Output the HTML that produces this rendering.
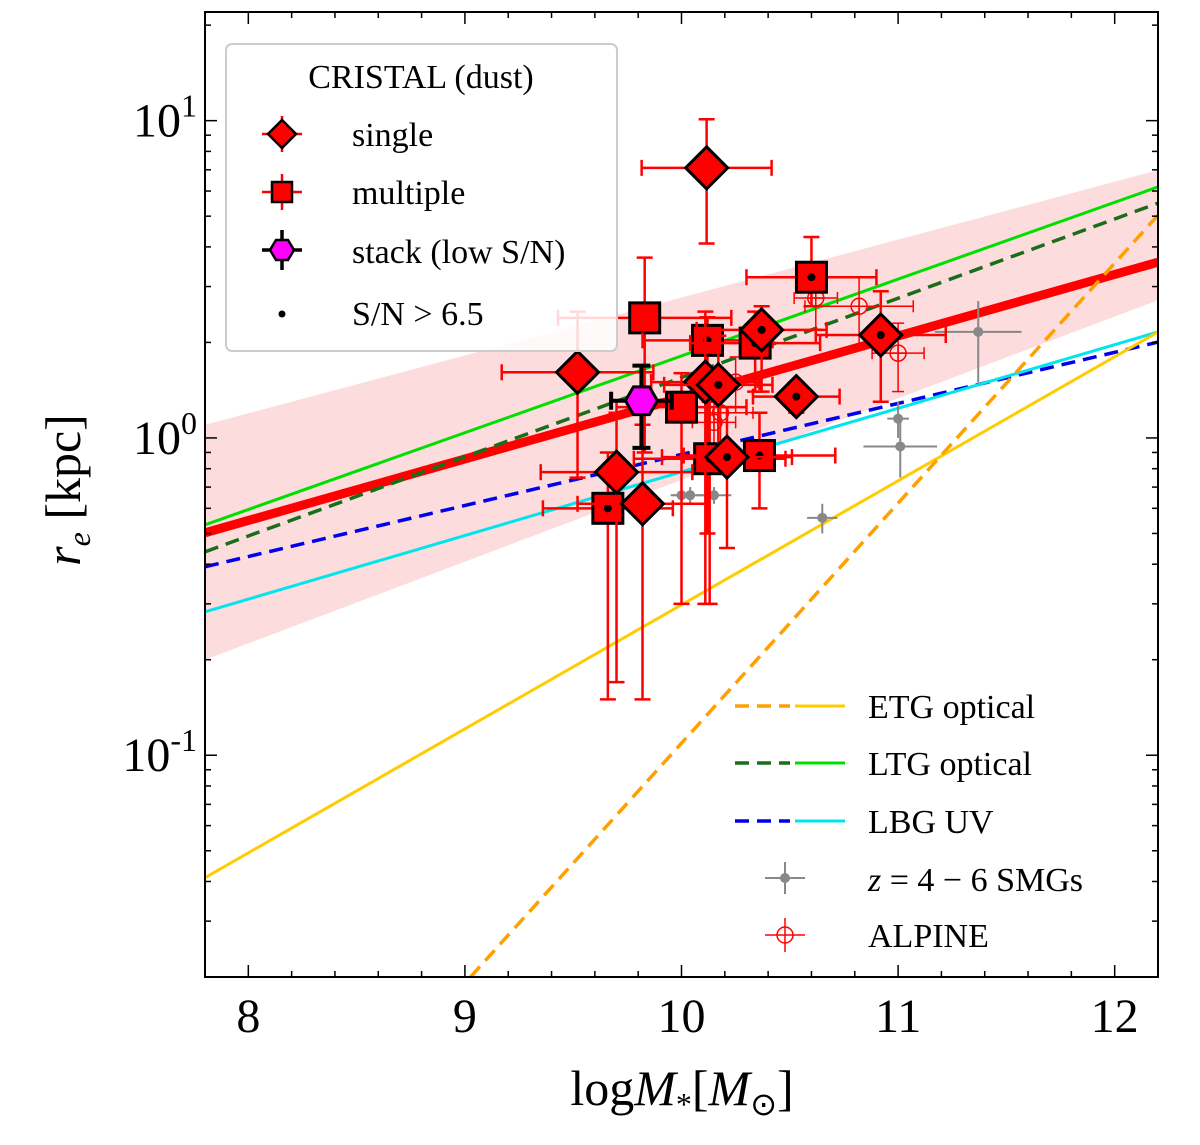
<!DOCTYPE html>
<html><head><meta charset="utf-8"><style>
html,body{margin:0;padding:0;width:1200px;height:1145px;overflow:hidden;background:#fff}
svg{position:absolute;left:0;top:0;font-family:"Liberation Serif",serif}
</style></head><body>
<svg id="c" width="1200" height="1145"></svg>
<script>
// data arrays
const singleX=[10.116,9.52,9.70,9.82,10.37,10.11,10.17,10.21,10.53,10.92];
const singleY=[7.1,1.61,0.78,0.62,2.19,1.50,1.47,0.87,1.35,2.11];
const singleDot=[0,0,0,0,1,1,1,1,1,1];
const singleXErr=[0.30,0.35,0.35,0.3,0.3,0.25,0.25,0.3,0.2,0.3];
const singleYLo=[4.1,0.75,0.17,0.15,1.4,0.3,0.9,0.45,1.2,1.3];
const singleYHi=[10.1,2.5,1.2,1.1,2.6,2.5,2.1,1.25,1.5,2.9];
const multiX=[9.83,10.12,10.34,10.60,10.0,10.13,10.36,9.66];
const multiY=[2.39,2.03,1.99,3.21,1.25,0.86,0.88,0.60];
const multiDot=[0,1,1,1,0,1,1,1];
const multiXErr=[0.4,0.3,0.3,0.3,0.3,0.35,0.35,0.3];
const multiYLo=[0.9,0.5,1.4,2.6,0.3,0.3,0.6,0.15];
const multiYHi=[3.7,2.4,2.5,4.3,1.6,1.3,1.2,0.9];
const stackX=[9.815],stackY=[1.31],stackXErr=[0.14],stackYLo=[0.93],stackYHi=[1.69];
const smgX=[11.37,11.0,11.01,10.65,10.04,10.15,10.0];
const smgY=[2.16,1.15,0.94,0.56,0.66,0.66,0.66];
const smgXErr=[0.2,0.05,0.17,0.07,0.08,0.08,0.05];
const smgYLo=[1.5,1.0,0.75,0.5,0.62,0.62,0.62];
const smgYHi=[2.7,1.3,1.15,0.62,0.70,0.70,0.70];
const alpX=[10.62,10.82,11.0,10.18,10.15,10.25];
const alpY=[2.76,2.6,1.85,1.2,1.12,1.5];
const alpXErr=[0.1,0.25,0.12,0.15,0.1,0.1];
const alpYLo=[2.2,1.9,1.4,0.9,0.8,1.2];
const alpYHi=[3.4,3.2,2.3,1.5,1.4,1.8];
// relations: log10(re) at x=7.8 and x=12.2
const relNames=['red-fit','ltg-solid','ltg-dashed','lbg-dashed','lbg-solid','etg-solid','etg-dashed'];
const relStart=[-0.299,-0.274,-0.359,-0.406,-0.548,-1.386,-2.626];
const relEnd=[0.554,0.791,0.740,0.302,0.334,0.334,0.702];
const bandLo=[-0.699,0.434],bandHi=[0.041,0.844];
const xTicks=[8,9,10,11,12];
const yTicks=[-1,0,1];

const NS='http://www.w3.org/2000/svg',svg=document.getElementById('c');
const L=205,R=1158,T=12,B=977,X0=7.8,X1=12.2,Y0=Math.log10(0.02),Y1=Math.log10(22);
const sx=v=>L+(v-X0)/(X1-X0)*(R-L);
const sly=l=>B-(l-Y0)/(Y1-Y0)*(B-T);
const sy=v=>sly(Math.log10(v));
function el(t,a,p){const e=document.createElementNS(NS,t);for(const k in a)e.setAttribute(k,a[k]);(p||svg).appendChild(e);return e;}
const defs=el('defs',{});const cp=el('clipPath',{id:'cp'},defs);el('rect',{x:L,y:T,width:R-L,height:B-T},cp);
const plot=el('g',{'clip-path':'url(#cp)'});


const band=el('polygon',{points:`${sx(X0)},${sly(bandLo[0])} ${sx(X1)},${sly(bandLo[1])} ${sx(X1)},${sly(bandHi[1])} ${sx(X0)},${sly(bandHi[0])}`,fill:'#fcdcdc'},plot);


const relStyle=[['#ff0000',9,''],['#00e000',3,''],['#1a6e1a',3.5,'14,8'],['#0000ee',3.5,'14,8'],['#00e5ee',3,''],['#ffcc00',3,''],['#ffa000',3.5,'14,8']];
for(let i=0;i<relNames.length;i++){const s=relStyle[i];
 let xa=X0,la=relStart[i];const slope=(relEnd[i]-relStart[i])/(X1-X0);
 if(la<Y0){xa=X0+(Y0-la)/slope;la=Y0;}
 const ln=el('line',{x1:sx(xa),y1:sly(la),x2:sx(X1),y2:sly(relEnd[i]),stroke:s[0],'stroke-width':s[1],'stroke-dasharray':s[2]},plot);
 
 }
function errbar(g,x,y,xe,ylo,yhi,col,w,cap){
 const cx=sx(x),cy=sy(y),a=sx(x-xe),b=sx(x+xe),t=sy(yhi),bt=sy(ylo);
 el('line',{x1:a,y1:cy,x2:b,y2:cy,stroke:col,'stroke-width':w},g);
 el('line',{x1:cx,y1:t,x2:cx,y2:bt,stroke:col,'stroke-width':w},g);
 [[a,cy,0],[b,cy,0],[cx,t,1],[cx,bt,1]].forEach(p=>{ if(p[2])el('line',{x1:p[0]-cap,y1:p[1],x2:p[0]+cap,y2:p[1],stroke:col,'stroke-width':w},g);else el('line',{x1:p[0],y1:p[1]-cap,x2:p[0],y2:p[1]+cap,stroke:col,'stroke-width':w},g);});
}
for(let i=0;i<smgX.length;i++){const g=el('g',{},plot);
 
 
 errbar(g,smgX[i],smgY[i],smgXErr[i],smgYLo[i],smgYHi[i],'#888',2,0);
 el('circle',{cx:sx(smgX[i]),cy:sy(smgY[i]),r:5,fill:'#888'},g);}
for(let i=0;i<alpX.length;i++){const g=el('g',{},plot);
 
 
 errbar(g,alpX[i],alpY[i],alpXErr[i],alpYLo[i],alpYHi[i],'#f00',1.5,6);
 const cx=sx(alpX[i]),cy=sy(alpY[i]);
 el('circle',{cx,cy,r:8,fill:'none',stroke:'#f00','stroke-width':1.5},g);
 el('line',{x1:cx-8,y1:cy,x2:cx+8,y2:cy,stroke:'#f00','stroke-width':1.5},g);el('line',{x1:cx,y1:cy-8,x2:cx,y2:cy+8,stroke:'#f00','stroke-width':1.5},g);}
function marker(g,kind,cx,cy,dot){
 if(kind==='d')el('polygon',{points:`${cx},${cy-21} ${cx+21},${cy} ${cx},${cy+21} ${cx-21},${cy}`,fill:'#f00',stroke:'#000','stroke-width':3},g);
 else el('rect',{x:cx-15,y:cy-15,width:30,height:30,fill:'#f00',stroke:'#000','stroke-width':3},g);
 if(dot)el('circle',{cx,cy,r:4,fill:'#000'},g);}
for(let i=0;i<multiX.length;i++){const g=el('g',{},plot);
 
 
 errbar(g,multiX[i],multiY[i],multiXErr[i],multiYLo[i],multiYHi[i],'#f00',2.5,8);
 marker(g,'s',sx(multiX[i]),sy(multiY[i]),multiDot[i]);}
for(let i=0;i<singleX.length;i++){const g=el('g',{},plot);
 
 
 errbar(g,singleX[i],singleY[i],singleXErr[i],singleYLo[i],singleYHi[i],'#f00',2.5,8);
 marker(g,'d',sx(singleX[i]),sy(singleY[i]),singleDot[i]);}
{const g=el('g',{},plot);
 
 
 errbar(g,stackX[0],stackY[0],stackXErr[0],stackYLo[0],stackYHi[0],'#000',4,9);
 const cx=sx(stackX[0]),cy=sy(stackY[0]);let p=[];for(let k=0;k<6;k++){const a=k*Math.PI/3;p.push((cx+16*Math.cos(a))+','+(cy+16*Math.sin(a)));}
 el('polygon',{points:p.join(' '),fill:'#ff00ff',stroke:'#000','stroke-width':3},g);}
const ax=el('g',{});


el('rect',{x:L,y:T,width:R-L,height:B-T,fill:'none',stroke:'#000','stroke-width':2},ax);
function tk(x1,y1,x2,y2){el('line',{x1,y1,x2,y2,stroke:'#000','stroke-width':1.5},ax);}
for(let v=7.8;v<=12.21;v+=0.2){const x=sx(v);const major=Math.abs(v-Math.round(v))<1e-6;const len=major?12:6;tk(x,B,x,B-len);tk(x,T,x,T+len);}
xTicks.forEach(v=>{const t=el('text',{x:sx(v),y:1032,'font-size':48,'text-anchor':'middle'},ax);t.textContent=v;
 
 });
for(let d=-2;d<=1;d++)for(let m=1;m<10;m++){const l=d+Math.log10(m);if(l<Y0||l>Y1)continue;const y=sly(l);const len=m===1?12:6;tk(L,y,L+len,y);tk(R,y,R-len,y);}
yTicks.forEach(v=>{const t=el('text',{x:197,y:sly(v)+16,'font-size':48,'text-anchor':'end'},ax);t.innerHTML=`10<tspan dy="-20" font-size="32">${v}</tspan>`;
 
 });
</script>
<svg width="1200" height="1145" font-family="Liberation Serif, serif">
<text x="682" y="1105" font-size="50" text-anchor="middle">log<tspan font-style="italic">M</tspan><tspan font-size="32" dy="10">*</tspan><tspan dy="-10">[</tspan><tspan font-style="italic">M</tspan><tspan font-size="32" dy="10">⊙</tspan><tspan dy="-10">]</tspan></text>
<text transform="translate(80,490) rotate(-90)" font-size="50" text-anchor="middle"><tspan font-style="italic">r</tspan><tspan font-style="italic" font-size="32" dy="10">e</tspan><tspan dy="-10"> [kpc]</tspan></text>
<g>
<rect x="226" y="44" width="391" height="307" rx="6" fill="#fff" fill-opacity="0.85" stroke="#ccc" stroke-width="2"/>
<text x="421" y="88" font-size="34" text-anchor="middle">CRISTAL (dust)</text>
<g><line x1="262" y1="134" x2="302" y2="134" stroke="#f00" stroke-width="2.5"/><line x1="282" y1="116" x2="282" y2="152" stroke="#f00" stroke-width="2.5"/><polygon points="282,120 296,134 282,148 268,134" fill="#f00" stroke="#000" stroke-width="2.5"/><text x="352" y="146" font-size="34">single</text></g>
<g><line x1="262" y1="192" x2="302" y2="192" stroke="#f00" stroke-width="2.5"/><line x1="282" y1="174" x2="282" y2="210" stroke="#f00" stroke-width="2.5"/><rect x="272" y="182" width="20" height="20" fill="#f00" stroke="#000" stroke-width="2.5"/><text x="352" y="204" font-size="34">multiple</text></g>
<g><line x1="262" y1="250" x2="302" y2="250" stroke="#000" stroke-width="3.5"/><line x1="282" y1="230" x2="282" y2="270" stroke="#000" stroke-width="3.5"/><polygon points="294,250 288,260 276,260 270,250 276,240 288,240" fill="#f0f" stroke="#000" stroke-width="2.5"/><text x="352" y="263" font-size="34">stack (low S/N)</text></g>
<g><circle cx="282" cy="314" r="3.5"/><text x="352" y="325" font-size="34">S/N &gt; 6.5</text></g>
</g>
<g font-size="34">
<g><line x1="735" y1="706" x2="790" y2="706" stroke="#ffa000" stroke-width="3.5" stroke-dasharray="14,8"/><line x1="795" y1="706" x2="845" y2="706" stroke="#ffcc00" stroke-width="3"/><text x="868" y="718">ETG optical</text></g>
<g><line x1="735" y1="763" x2="790" y2="763" stroke="#1a6e1a" stroke-width="3.5" stroke-dasharray="14,8"/><line x1="795" y1="763" x2="845" y2="763" stroke="#00e000" stroke-width="3"/><text x="868" y="775">LTG optical</text></g>
<g><line x1="735" y1="821" x2="790" y2="821" stroke="#0000ee" stroke-width="3.5" stroke-dasharray="14,8"/><line x1="795" y1="821" x2="845" y2="821" stroke="#00e5ee" stroke-width="3"/><text x="868" y="833">LBG UV</text></g>
<g><line x1="765" y1="878" x2="805" y2="878" stroke="#888" stroke-width="2"/><line x1="785" y1="862" x2="785" y2="894" stroke="#888" stroke-width="2"/><circle cx="785" cy="878" r="5" fill="#888"/><text x="868" y="891"><tspan font-style="italic">z</tspan> = 4 − 6 SMGs</text></g>
<g><line x1="765" y1="935" x2="805" y2="935" stroke="#f00" stroke-width="1.5"/><line x1="785" y1="918" x2="785" y2="952" stroke="#f00" stroke-width="1.5"/><circle cx="785" cy="935" r="8" fill="none" stroke="#f00" stroke-width="1.5"/><text x="868" y="947">ALPINE</text></g>
</g>
</svg>
</body></html>
